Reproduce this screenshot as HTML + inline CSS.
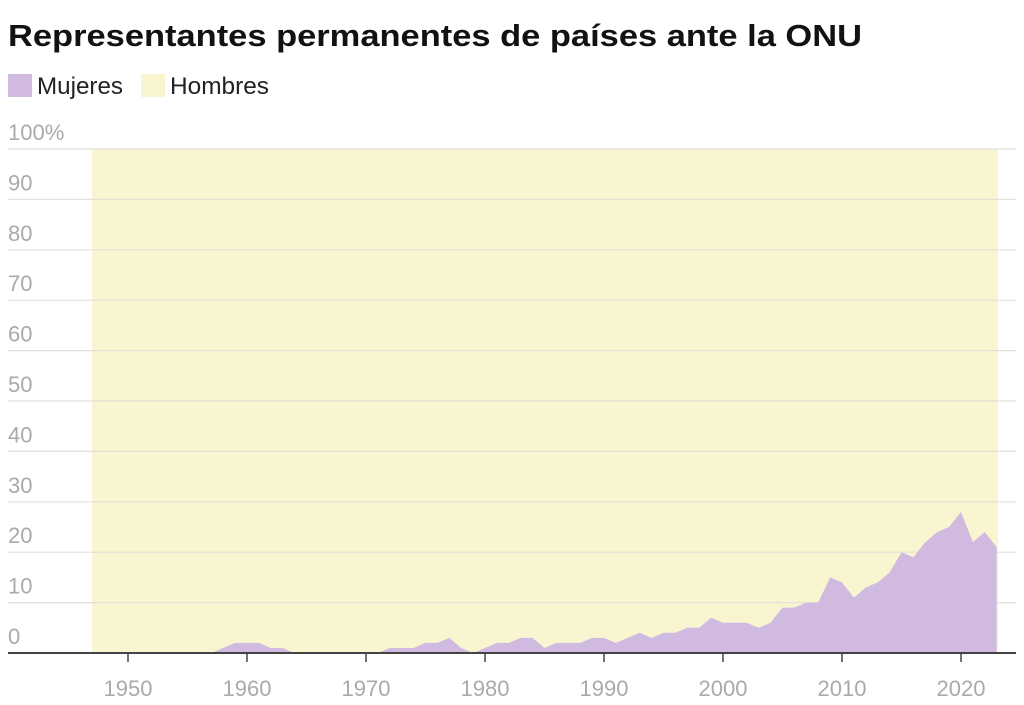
<!DOCTYPE html>
<html><head><meta charset="utf-8"><style>
body{margin:0;background:#fff;width:1024px;height:705px;overflow:hidden}
svg{display:block}
</style></head><body>
<svg id="s" width="1024" height="705" xmlns="http://www.w3.org/2000/svg" font-family="Liberation Sans, sans-serif">
<text x="8" y="46" font-size="31" font-weight="bold" fill="#121212" textLength="854" lengthAdjust="spacingAndGlyphs">Representantes permanentes de países ante la ONU</text>
<rect x="8" y="74" width="24" height="23" fill="#d0bae0"/>
<text x="37" y="94" font-size="24" fill="#222" textLength="86" lengthAdjust="spacingAndGlyphs">Mujeres</text>
<rect x="141" y="74" width="24" height="23" fill="#f9f5d0"/>
<text x="170" y="94" font-size="24" fill="#222" textLength="99" lengthAdjust="spacingAndGlyphs">Hombres</text>
<rect x="92" y="149" width="906" height="504" fill="#f9f5d0"/>
<g id="grid"></g>
<polygon id="area" fill="#d0bae0"/>
<line x1="8" y1="653" x2="1016" y2="653" stroke="#444" stroke-width="2"/>
<g id="xt"></g>
</svg>
<script>
var NS="http://www.w3.org/2000/svg",g=document.getElementById('grid'),xt=document.getElementById('xt');
function el(p,t,a,txt){var e=document.createElementNS(NS,t);for(var k in a)e.setAttribute(k,a[k]);if(txt)e.textContent=txt;p.appendChild(e);return e;}
for(var v=10;v<=100;v+=10){var y=653-v*5.04;el(g,'line',{x1:8,x2:1016,y1:y,y2:y,stroke:'#e2e0d8','stroke-width':1.2});}
for(var v=0;v<=100;v+=10){var y=653-v*5.04-9;el(g,'text',{x:8,y:y,'font-size':22,fill:'#aaa'},v==100?'100%':String(v));}
function X(yr){return 128+(yr-1950)*11.9;}
for(var yr=1950;yr<=2020;yr+=10){el(xt,'line',{x1:X(yr),x2:X(yr),y1:653,y2:662,stroke:'#444','stroke-width':1.5});el(xt,'text',{x:X(yr),y:696,'font-size':22,fill:'#aaa','text-anchor':'middle'},String(yr));}
var d={1958:1,1959:2,1960:2,1961:2,1962:1,1963:1,1972:1,1973:1,1974:1,1975:2,1976:2,1977:3,1978:1,1979:0,1980:1,1981:2,1982:2,1983:3,1984:3,1985:1,1986:2,1987:2,1988:2,1989:3,1990:3,1991:2,1992:3,1993:4,1994:3,1995:4,1996:4,1997:5,1998:5,1999:7,2000:6,2001:6,2002:6,2003:5,2004:6,2005:9,2006:9,2007:10,2008:10,2009:15,2010:14,2011:11,2012:13,2013:14,2014:16,2015:20,2016:19,2017:22,2018:24,2019:25,2020:28,2021:22,2022:24,2023:21};
var pts=[X(1947)+',653'];
for(var yr=1947;yr<=2023;yr++){var v=d[yr]||0;pts.push(X(yr).toFixed(1)+','+(653-v*5.04).toFixed(1));}
pts.push(X(2023)+',653');
document.getElementById('area').setAttribute('points',pts.join(' '));
</script>
</body></html>
